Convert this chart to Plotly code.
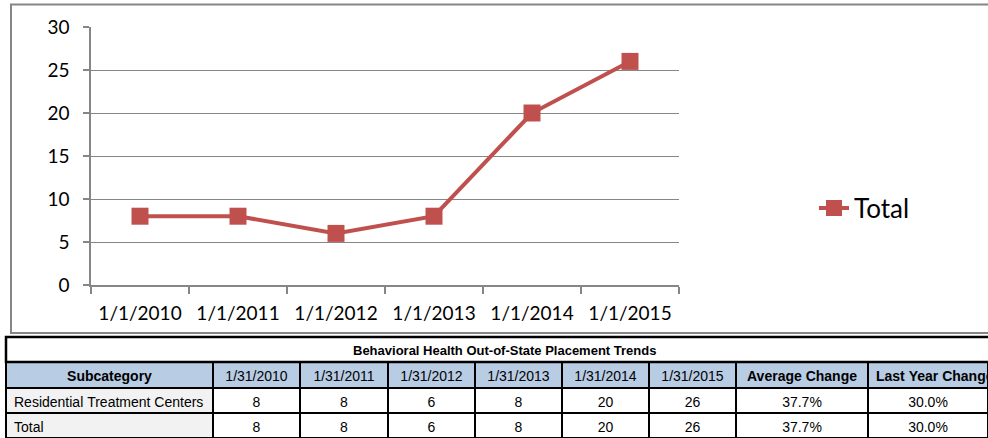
import plotly.graph_objects as go

# Chart data: year-start placements
chart_dates = ["1/1/2010", "1/1/2011", "1/1/2012", "1/1/2013", "1/1/2014", "1/1/2015"]
table_dates = ["1/31/2010", "1/31/2011", "1/31/2012", "1/31/2013", "1/31/2014", "1/31/2015"]
subcategories = ["Residential Treatment Centers"]
rtc_counts = [8, 8, 6, 8, 20, 26]
y_ticks = [0, 5, 10, 15, 20, 25, 30]

total_counts = [sum(v) for v in zip(rtc_counts)]


def pct_changes(vals):
    return [(b - a) / a for a, b in zip(vals[:-1], vals[1:])]


def avg_change(vals):
    ch = pct_changes(vals)
    return sum(ch) / len(ch)


def last_change(vals):
    return pct_changes(vals)[-1]


def nowrap(s):
    # keep table cell text on a single line
    return s.replace(" ", "\u00a0")


W, H = 988, 438
RED = "#C0504D"
GRAY = "#868686"
CHART_FONT = "Lato, Carlito, Calibri, sans-serif"
TABLE_FONT = "Liberation Sans, Arial, sans-serif"


def px_x(x):
    return x / W


def px_y(y):
    return (H - y) / H


fig = go.Figure()

fig.add_trace(go.Scatter(
    x=chart_dates, y=total_counts, name="Total", mode="lines+markers",
    line=dict(color=RED, width=4),
    marker=dict(symbol="square", size=17, color=RED),
    xaxis="x", yaxis="y",
))

rows = subcategories + ["Total"]
series = [rtc_counts, total_counts]
cols = [[nowrap(r) for r in rows]]
for i in range(len(table_dates)):
    cols.append([str(s[i]) for s in series])
cols.append([f"{avg_change(s) * 100:.1f}%" for s in series])
cols.append([f"{last_change(s) * 100:.1f}%" for s in series])

headers = ["Subcategory"] + table_dates + ["Average Change", "Last Year Change"]
header_bold = [not h[0].isdigit() for h in headers]

fig.add_trace(go.Table(
    domain=dict(x=[px_x(6), 1], y=[0, px_y(362)]),
    columnwidth=[207, 87, 88, 87, 87, 87, 87, 132, 120],
    header=dict(
        values=[nowrap(h) for h in headers],
        fill_color="#B8CCE4",
        line=dict(color="black", width=2),
        font=dict(family=TABLE_FONT, size=14, color="black",
                  weight=["bold" if b else "normal" for b in header_bold]),
        align=["center"] * (len(headers) - 1) + ["left"], height=26,
    ),
    cells=dict(
        values=cols,
        fill_color=[["#F2F2F2"] * len(rows)] + [["white"] * len(rows)] * (len(cols) - 1),
        line=dict(color="black", width=2),
        font=dict(family=TABLE_FONT, size=14, color="black"),
        align=["left"] + ["center"] * (len(cols) - 1), height=25,
    ),
))

fig.update_layout(
    width=W, height=H,
    margin=dict(l=0, r=0, t=0, b=0, pad=0, autoexpand=False),
    paper_bgcolor="white", plot_bgcolor="white",
    font=dict(family=CHART_FONT, color="black"),
    showlegend=True,
    legend=dict(x=px_x(814), y=px_y(208), xanchor="left", yanchor="middle",
                font=dict(size=26, family=CHART_FONT), bgcolor="rgba(0,0,0,0)"),
    xaxis=dict(
        domain=[px_x(91), px_x(679)], type="category", range=[-0.5, 5.5],
        autorange=False, automargin=False,
        showline=True, linecolor=GRAY, linewidth=1.5,
        ticks="outside", tickson="boundaries", ticklen=7, tickcolor=GRAY, tickwidth=1.5,
        showgrid=False, tickfont=dict(size=19), ticklabelstandoff=10,
        anchor="y",
    ),
    yaxis=dict(
        domain=[px_y(285), px_y(27)], range=[0, 30], tickvals=y_ticks,
        autorange=False, automargin=False,
        showline=True, linecolor=GRAY, linewidth=1.5,
        ticks="outside", ticklen=6, tickcolor=GRAY, tickwidth=1.5,
        showgrid=True, gridcolor=GRAY, gridwidth=1.3, zeroline=False,
        tickfont=dict(size=19), ticklabelstandoff=10,
        anchor="x",
    ),
    shapes=[
        # chart frame
        dict(type="rect", xref="paper", yref="paper",
             x0=px_x(11), x1=1.05, y0=px_y(333), y1=px_y(4.5),
             line=dict(color=GRAY, width=2), layer="below"),
        # table title row
        dict(type="rect", xref="paper", yref="paper",
             x0=px_x(6), x1=1.05, y0=px_y(362), y1=px_y(337),
             line=dict(color="black", width=2.5)),
    ],
    annotations=[
        dict(text="<b>Behavioral Health Out-of-State Placement Trends</b>",
             xref="paper", yref="paper", x=px_x(505), y=px_y(350),
             xanchor="center", yanchor="middle", showarrow=False,
             font=dict(family=TABLE_FONT, size=13, color="black")),
    ],
)

fig.write_html("out.html")
